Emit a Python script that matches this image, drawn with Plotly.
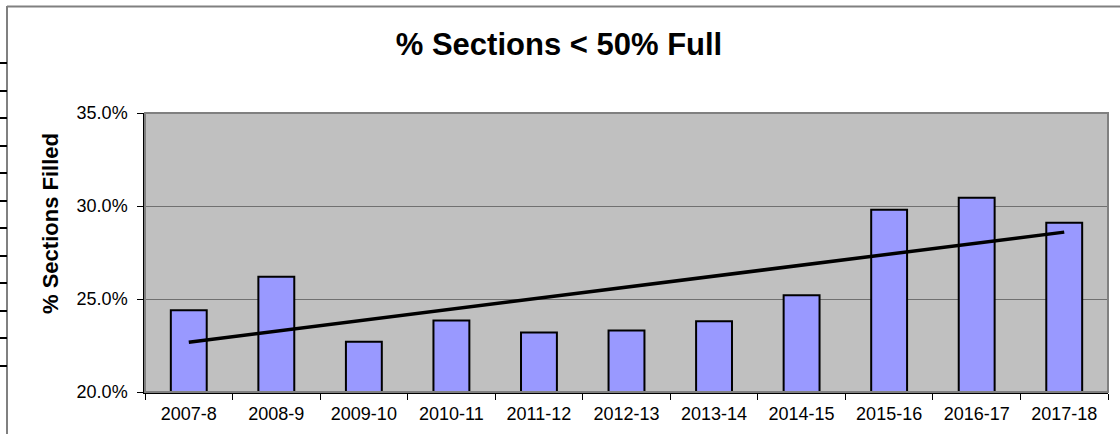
import numpy as np
import plotly.graph_objects as go

categories = ["2007-8", "2008-9", "2009-10", "2010-11", "2011-12", "2012-13",
              "2013-14", "2014-15", "2015-16", "2016-17", "2017-18"]
values = [0.244, 0.262, 0.227, 0.2385, 0.232, 0.233, 0.238, 0.252, 0.298, 0.3045, 0.291]

# linear trend line fitted to the data
idx = np.arange(len(values))
slope, intercept = np.polyfit(idx, values, 1)
trend = [float(intercept + slope * i) for i in idx]

W, H = 1120, 434
ML, MR, MT, MB = 145, 12, 113, 42
PW = W - ML - MR
PH = H - MT - MB

def px_x(px):
    return (px - ML) / PW

def px_y(py):
    return (H - MB - py) / PH

fig = go.Figure()
fig.add_trace(go.Bar(
    x=categories, y=values,
    marker=dict(color="#9999FF", line=dict(color="#000000", width=2)),
    showlegend=False, hoverinfo="x+y",
))
fig.add_trace(go.Scatter(
    x=categories, y=trend, mode="lines",
    line=dict(color="#000000", width=3.5),
    showlegend=False, hoverinfo="skip",
))

shapes = []
# gray plot-area frame (top/right)
shapes.append(dict(type="rect", xref="paper", yref="paper", x0=0, x1=1, y0=0, y1=1,
                   line=dict(color="#808080", width=2), layer="above"))
# outer chart frame (left and top)
shapes.append(dict(type="line", xref="paper", yref="paper",
                   x0=px_x(7), x1=px_x(7), y0=px_y(6), y1=px_y(440),
                   line=dict(color="#808080", width=2)))
shapes.append(dict(type="line", xref="paper", yref="paper",
                   x0=px_x(7), x1=px_x(1125), y0=px_y(6.5), y1=px_y(6.5),
                   line=dict(color="#808080", width=2)))
# small marks on the far left edge
for py in [63, 91, 118, 146, 173, 201, 228, 256, 283, 311, 338, 366]:
    shapes.append(dict(type="line", xref="paper", yref="paper",
                       x0=px_x(-1), x1=px_x(7), y0=px_y(py), y1=px_y(py),
                       line=dict(color="#000000", width=2)))

fig.update_layout(
    width=W, height=H,
    margin=dict(l=ML, r=MR, t=MT, b=MB, pad=0, autoexpand=False),
    paper_bgcolor="#FFFFFF",
    plot_bgcolor="#C0C0C0",
    bargap=0.59,
    font=dict(family="Liberation Sans, Arial, sans-serif", color="#000000", size=18),
    title=dict(text="<b>% Sections < 50% Full</b>", x=559 / W, xanchor="center",
               y=1 - 44 / H, yanchor="middle", yref="container",
               font=dict(size=31, family="Liberation Sans, Arial, sans-serif", color="#000000")),
    shapes=shapes,
    annotations=[dict(text="<b>% Sections Filled</b>", xref="paper", yref="paper",
                      x=px_x(50), y=px_y(224), textangle=-90, showarrow=False,
                      xanchor="center", yanchor="middle",
                      font=dict(size=22, family="Liberation Sans, Arial, sans-serif", color="#000000"))],
)
fig.update_xaxes(
    type="category", tickson="boundaries", ticks="outside", ticklen=6,
    tickcolor="#000000", tickwidth=1, showline=True, linecolor="#000000", linewidth=1.5,
    showgrid=False, tickfont=dict(size=18), ticklabelstandoff=5, fixedrange=True,
    automargin=False,
)
fig.update_yaxes(
    range=[0.20, 0.35], dtick=0.05, tickformat=".1%", ticks="outside", ticklen=6,
    tickcolor="#000000", tickwidth=1, showline=True, linecolor="#000000", linewidth=1.5,
    showgrid=True, gridcolor="#707070", gridwidth=1, zeroline=False,
    tickfont=dict(size=18), ticklabelstandoff=6, fixedrange=True, automargin=False,
)

fig.write_html("out.html", config={"displayModeBar": False},
               post_script="document.body.style.margin='0';document.body.style.overflow='hidden';")
